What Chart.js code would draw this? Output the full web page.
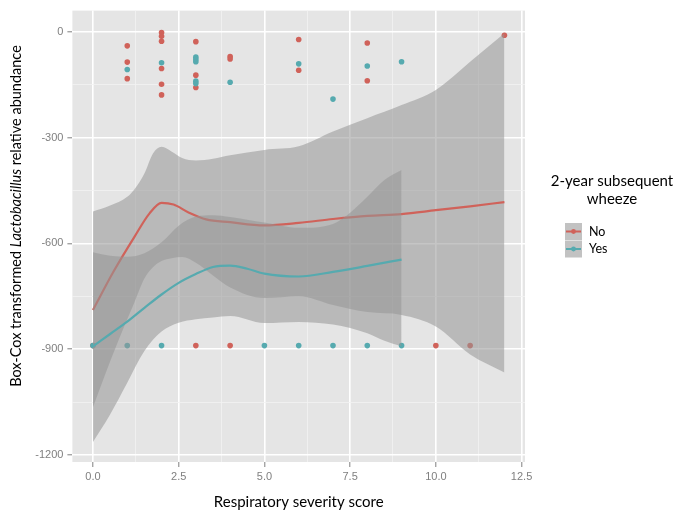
<!DOCTYPE html>
<html lang="en">
<head>
<meta charset="UTF-8">
<title>Respiratory severity vs Lactobacillus abundance</title>
<script src="https://cdn.jsdelivr.net/npm/chart.js"></script>
<style>
  html, body { margin: 0; padding: 0; background: #fff; }
</style>
</head>
<body>
<canvas id="myChart" width="676" height="516"></canvas>
<script>
// Raw observations, "No" group (red)
const noScore = [0, 1, 1, 1, 2, 2, 2, 2, 2, 2, 3, 3, 3, 3, 4, 4, 4, 6, 6, 8, 8, 10, 11, 12];
const noAbund = [-890, -40, -86, -133, -2, -13, -27, -104, -149, -179, -28, -123, -158, -890, -70, -77, -890, -22, -109, -32, -139, -890, -890, -10];

// Raw observations, "Yes" group (teal)
const yesScore = [0, 1, 1, 2, 2, 3, 3, 3, 3, 3, 4, 5, 6, 6, 7, 7, 8, 8, 9, 9];
const yesAbund = [-890, -107, -890, -88, -890, -72, -79, -85, -140, -147, -143, -890, -91, -890, -191, -890, -97, -890, -85, -890];

// Loess fits
const noFitX = [0, 0.6, 1.2, 1.65, 2, 2.35, 2.8, 3.3, 4, 5, 6, 7, 8, 9, 10, 11, 12];
const noFitY = [-789, -680, -583, -515, -485, -490, -513, -532, -540, -549, -542, -531, -522, -517, -506, -495, -483];
const noBandX = [0, 0.5, 1, 1.2, 1.5, 1.75, 2, 2.3, 2.6, 3, 3.5, 4, 5, 6, 7, 8, 9, 10, 11, 12];
const noBandHi = [-510, -493, -468, -448, -402, -345, -326, -340, -358, -365, -360, -350, -335, -325, -283, -245, -208, -165, -85, -4];
const noBandLo = [-1065, -935, -815, -770, -700, -668, -650, -642, -639, -655, -691, -725, -755, -750, -775, -795, -803, -836, -915, -966];

const yesFitX = [0, 0.5, 1, 1.5, 2, 2.5, 3, 3.5, 4, 4.5, 5, 6, 7, 8, 9];
const yesFitY = [-892, -857, -822, -783, -745, -712, -687, -667, -663, -672, -686, -694, -681, -664, -646];
const yesBandX = [0, 0.5, 1, 1.5, 2, 2.5, 3, 3.5, 4, 5, 6, 7, 7.5, 8, 8.5, 9];
const yesBandHi = [-625, -635, -638, -628, -597, -550, -524, -520, -525, -541, -556, -545, -513, -468, -420, -392];
const yesBandLo = [-1163, -1085, -995, -905, -850, -825, -815, -810, -806, -826, -823, -830, -840, -855, -876, -892];

// Axis breaks
const xMajor = [0, 2.5, 5, 7.5, 10, 12.5];
const xMinor = [1.25, 3.75, 6.25, 8.75, 11.25];
const yMajor = [-1200, -900, -600, -300, 0];
const yMinor = [-1050, -750, -450, -150];

const legendTitle = ['2-year subsequent', 'wheeze'];
const groups = ['No', 'Yes'];

const RED = '#d0625a';
const TEAL = '#56aaaf';
const BAND = 'rgba(150,150,150,0.55)';

const pts = (xs, ys) => xs.map((x, i) => ({ x: x, y: ys[i] }));

const lineStyle = {
    pointRadius: 0,
    borderWidth: 2.2,
    cubicInterpolationMode: 'monotone',
    fill: false
};
const bandEdge = {
    pointRadius: 0,
    borderWidth: 0,
    borderColor: 'rgba(0,0,0,0)',
    cubicInterpolationMode: 'monotone'
};

// grey panel behind the grid
const panelBg = {
    id: 'panelBg',
    beforeDraw(chart) {
        const { ctx, chartArea: a } = chart;
        ctx.save();
        ctx.fillStyle = '#e5e5e5';
        ctx.fillRect(a.left, a.top, a.right - a.left, a.bottom - a.top);
        ctx.restore();
    }
};

// y title with italic genus name, plus the legend
const extras = {
    id: 'extras',
    afterDraw(chart) {
        const ctx = chart.ctx;
        ctx.save();
        const parts = [['Box-Cox transformed ', 'normal'], ['Lactobacillus', 'italic'], [' relative abundance', 'normal']];
        let total = 0;
        parts.forEach(([t, s]) => { ctx.font = s + ' 14.5px Lato'; total += ctx.measureText(t).width; });
        ctx.translate(16, 216 + total / 2);
        ctx.rotate(-Math.PI / 2);
        ctx.fillStyle = '#000';
        ctx.textBaseline = 'middle';
        ctx.textAlign = 'left';
        let x = 0;
        parts.forEach(([t, s]) => {
            ctx.font = s + ' 14.5px Lato';
            ctx.fillText(t, x, 0);
            x += ctx.measureText(t).width;
        });
        ctx.restore();

        // legend
        ctx.save();
        ctx.fillStyle = '#000';
        ctx.textAlign = 'center';
        ctx.textBaseline = 'middle';
        ctx.font = '15px Lato';
        legendTitle.forEach((t, i) => ctx.fillText(t, 612, 181 + i * 18.5));
        const colors = [RED, TEAL];
        groups.forEach((g, i) => {
            const top = 223 + i * 17.5;
            ctx.fillStyle = '#c2c2c2';
            ctx.fillRect(565, top, 17, 17);
            const cy = top + 8.5;
            ctx.strokeStyle = colors[i];
            ctx.lineWidth = 2;
            ctx.beginPath();
            ctx.moveTo(566, cy);
            ctx.lineTo(581, cy);
            ctx.stroke();
            ctx.fillStyle = colors[i];
            ctx.beginPath();
            ctx.arc(573.5, cy, 2.4, 0, Math.PI * 2);
            ctx.fill();
            ctx.fillStyle = '#000';
            ctx.textAlign = 'left';
            ctx.font = '12.5px Lato';
            ctx.fillText(g, 589, cy);
        });
        ctx.restore();
    }
};

const isMajorX = v => xMajor.some(m => Math.abs(m - v) < 1e-6);
const isMajorY = v => yMajor.some(m => Math.abs(m - v) < 1e-6);

const ctx = document.getElementById('myChart').getContext('2d');
new Chart(ctx, {
    type: 'line',
    data: {
        datasets: [
            Object.assign({ label: 'Yes fit', data: pts(yesFitX, yesFitY), borderColor: TEAL, order: 0 }, lineStyle),
            Object.assign({ label: 'Yes band hi', data: pts(yesBandX, yesBandHi), fill: { target: 2 }, backgroundColor: BAND, order: 1 }, bandEdge),
            Object.assign({ label: 'Yes band lo', data: pts(yesBandX, yesBandLo), fill: false, order: 2 }, bandEdge),
            Object.assign({ label: 'No fit', data: pts(noFitX, noFitY), borderColor: RED, order: 3 }, lineStyle),
            Object.assign({ label: 'No band hi', data: pts(noBandX, noBandHi), fill: { target: 5 }, backgroundColor: BAND, order: 4 }, bandEdge),
            Object.assign({ label: 'No band lo', data: pts(noBandX, noBandLo), fill: false, order: 5 }, bandEdge),
            {
                label: 'Yes', data: pts(yesScore, yesAbund), showLine: false,
                pointRadius: 2.8, pointBorderWidth: 0, backgroundColor: TEAL, borderColor: TEAL, order: 6
            },
            {
                label: 'No', data: pts(noScore, noAbund), showLine: false,
                pointRadius: 2.8, pointBorderWidth: 0, backgroundColor: RED, borderColor: RED, order: 7
            }
        ]
    },
    options: {
        responsive: false,
        animation: false,
        layout: { padding: { top: 5, right: 151, bottom: 0, left: 0 } },
        plugins: {
            legend: { display: false },
            tooltip: { enabled: false }
        },
        scales: {
            x: {
                type: 'linear',
                min: -0.6,
                max: 12.6,
                afterBuildTicks: s => { s.ticks = xMajor.concat(xMinor).sort((a, b) => a - b).map(v => ({ value: v })); },
                afterFit: s => { s.height = 54; },
                border: { display: false },
                grid: {
                    color: c => isMajorX(c.tick.value) ? '#ffffff' : '#f2f2f2',
                    lineWidth: c => isMajorX(c.tick.value) ? 1.6 : 0.8,
                    tickColor: c => isMajorX(c.tick.value) ? '#7f7f7f' : 'rgba(0,0,0,0)',
                    tickLength: 5,
                    tickWidth: 1
                },
                ticks: {
                    autoSkip: false,
                    maxRotation: 0,
                    padding: 3,
                    color: '#7f7f7f',
                    font: { family: 'Liberation Sans', size: 11 },
                    callback: v => isMajorX(v) ? v.toFixed(1) : ''
                },
                title: {
                    display: true,
                    text: 'Respiratory severity score',
                    color: '#000',
                    font: { family: 'Lato', size: 15 },
                    padding: { top: 0, bottom: 5 }
                }
            },
            y: {
                type: 'linear',
                min: -1220,
                max: 60,
                afterBuildTicks: s => { s.ticks = yMajor.concat(yMinor).sort((a, b) => a - b).map(v => ({ value: v })); },
                afterFit: s => { s.width = 72.4; },
                border: { display: false },
                grid: {
                    color: c => isMajorY(c.tick.value) ? '#ffffff' : '#f2f2f2',
                    lineWidth: c => isMajorY(c.tick.value) ? 1.6 : 0.8,
                    tickColor: c => isMajorY(c.tick.value) ? '#7f7f7f' : 'rgba(0,0,0,0)',
                    tickLength: 5,
                    tickWidth: 1
                },
                ticks: {
                    autoSkip: false,
                    padding: 4,
                    color: '#7f7f7f',
                    font: { family: 'Liberation Sans', size: 11 },
                    callback: v => isMajorY(v) ? String(v) : ''
                }
            }
        }
    },
    plugins: [panelBg, extras]
});
</script>
</body>
</html>
